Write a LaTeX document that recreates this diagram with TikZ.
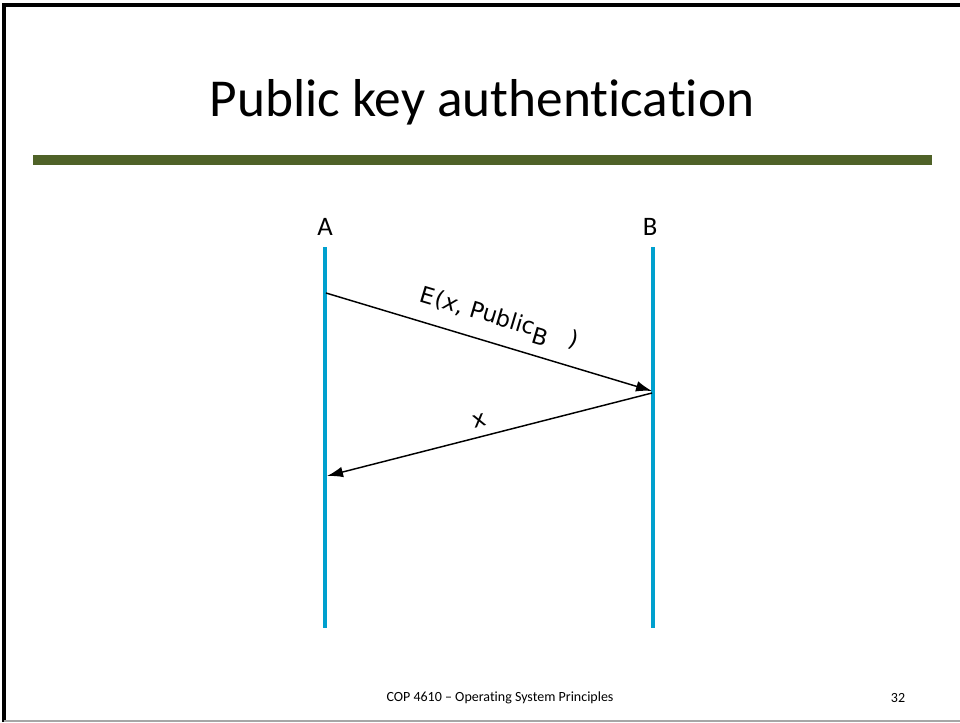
\documentclass[tikz,border=0pt]{standalone}
\usepackage{fontspec}
\setmainfont{Carlito}[RawFeature={-liga}]
\newfontfamily\msgfont{DejaVu Sans}
\usetikzlibrary{arrows.meta}
\definecolor{barGreen}{RGB}{79,98,40}
\definecolor{lifeBlue}{RGB}{0,160,206}
\tikzset{
  lifeline/.style={lifeBlue, line width=2.4pt},
  msg/.style={line width=1.1pt, -{Latex[length=12pt,width=8pt]}},
  party/.style={font=\fontsize{20}{22}\selectfont},
  msglabel/.style={font=\msgfont\fontsize{17}{19}\selectfont, inner sep=1pt}
}
\begin{document}
\begin{tikzpicture}[x=0.75pt,y=-0.75pt]
        \useasboundingbox (0,0) rectangle (960,722);
        % slide frame
        \draw[line width=2.4pt] (4,722) -- (4,5) -- (960,5);
        \draw[gray!70, line width=1.5pt] (4,721) -- (960,721);
        % title and bar
        \node[anchor=base, font=\fontsize{40}{44}\selectfont] (title) at (482,116) {Public key authentication};
        \fill[barGreen] (33,155) rectangle (932,165);
        % parties
        \node[party] (A) at (325,227) {A};
        \node[party] (B) at (650,227) {B};
        \coordinate (Atop) at (325,247);
        \coordinate (Abot) at (325,628);
        \coordinate (Btop) at (653,247);
        \coordinate (Bbot) at (653,628);
        \draw[lifeline] (Atop) -- (Abot);
        \draw[lifeline] (Btop) -- (Bbot);
        % messages
        \coordinate (a1) at (326,293);
        \coordinate (b1) at (652,391);
        \coordinate (b2) at (652,393);
        \coordinate (a2) at (327,476);
        \draw[msg] (a1) -- node[msglabel, above, sloped, yshift=7pt, xshift=2pt] (m1) {E\kern1pt(\textit{x}, Public\raisebox{-0.6ex}{B}\hspace{0.9em})} (b1);
        \draw[msg] (b2) -- node[msglabel, above, sloped, yshift=6pt, xshift=-5pt] (m2) {x} (a2);
        % footer
        \node[font=\fontsize{10.5}{12}\selectfont] (foot) at (500,698) {COP 4610 -- Operating System Principles};
        \node[font=\fontsize{10.5}{12}\selectfont] (page) at (898,698) {32};
\end{tikzpicture}
\end{document}
